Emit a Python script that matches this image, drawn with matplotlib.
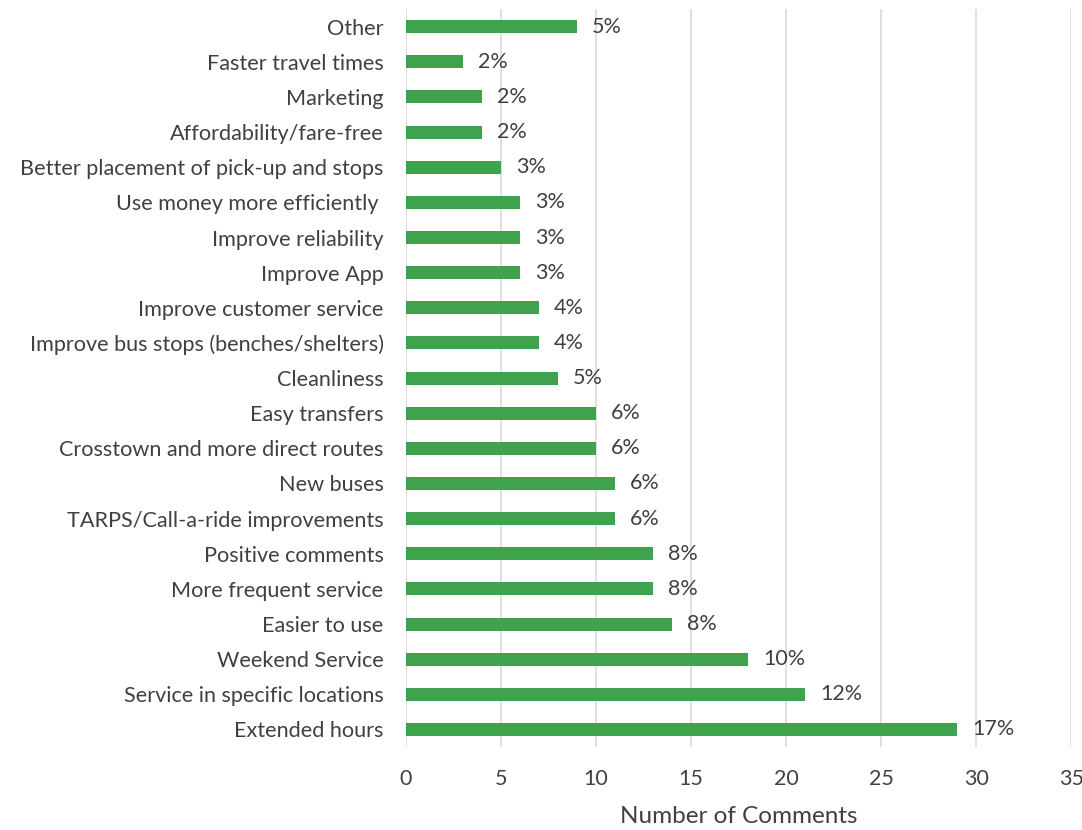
import matplotlib.pyplot as plt

# Categories listed bottom to top
categories = [
    "Extended hours",
    "Service in specific locations",
    "Weekend Service",
    "Easier to use",
    "More frequent service",
    "Positive comments",
    "TARPS/Call-a-ride improvements",
    "New buses",
    "Crosstown and more direct routes",
    "Easy transfers",
    "Cleanliness",
    "Improve bus stops (benches/shelters)",
    "Improve customer service",
    "Improve App",
    "Improve reliability",
    "Use money more efficiently ",
    "Better placement of pick-up and stops",
    "Affordability/fare-free",
    "Marketing",
    "Faster travel times",
    "Other",
]
comments = [29, 21, 18, 14, 13, 13, 11, 11, 10, 10, 8, 7, 7, 6, 6, 6, 5, 4, 4, 3, 9]
percent_labels = ["17%", "12%", "10%", "8%", "8%", "8%", "6%", "6%", "6%", "6%",
                  "5%", "4%", "4%", "3%", "3%", "3%", "3%", "2%", "2%", "2%", "5%"]
x_ticks = [0, 5, 10, 15, 20, 25, 30, 35]

plt.rcParams['font.family'] = ['Lato', 'DejaVu Sans']
text_color = '#404040'

fig = plt.figure(figsize=(10.82, 8.3), dpi=100)
ax = fig.add_axes([0.375, 0.1, 0.615, 0.889])

y = list(range(len(categories)))
ax.barh(y, comments, height=0.37, color='#3fa34d', zorder=3)

for yi, v, lab in zip(y, comments, percent_labels):
    ax.text(v + 0.8, yi, lab, va='center', ha='left', fontsize=15.5, color=text_color)

ax.set_yticks(y)
ax.set_yticklabels(categories, fontsize=15.6, color=text_color)
ax.set_xticks(x_ticks)
ax.set_xticklabels([str(t) for t in x_ticks], fontsize=15.5, color=text_color)
ax.set_xlim(0, 35)
ax.set_ylim(-0.5, len(categories) - 0.5)
ax.set_xlabel("Number of Comments", fontsize=17.5, color=text_color, labelpad=12)

ax.grid(axis='x', color='#d9d9d9', linewidth=1.2, zorder=0)
for s in ax.spines.values():
    s.set_visible(False)
ax.tick_params(axis='y', length=0, pad=16)
ax.tick_params(axis='x', length=0, pad=16)

fig.savefig("out.png", dpi=100)
